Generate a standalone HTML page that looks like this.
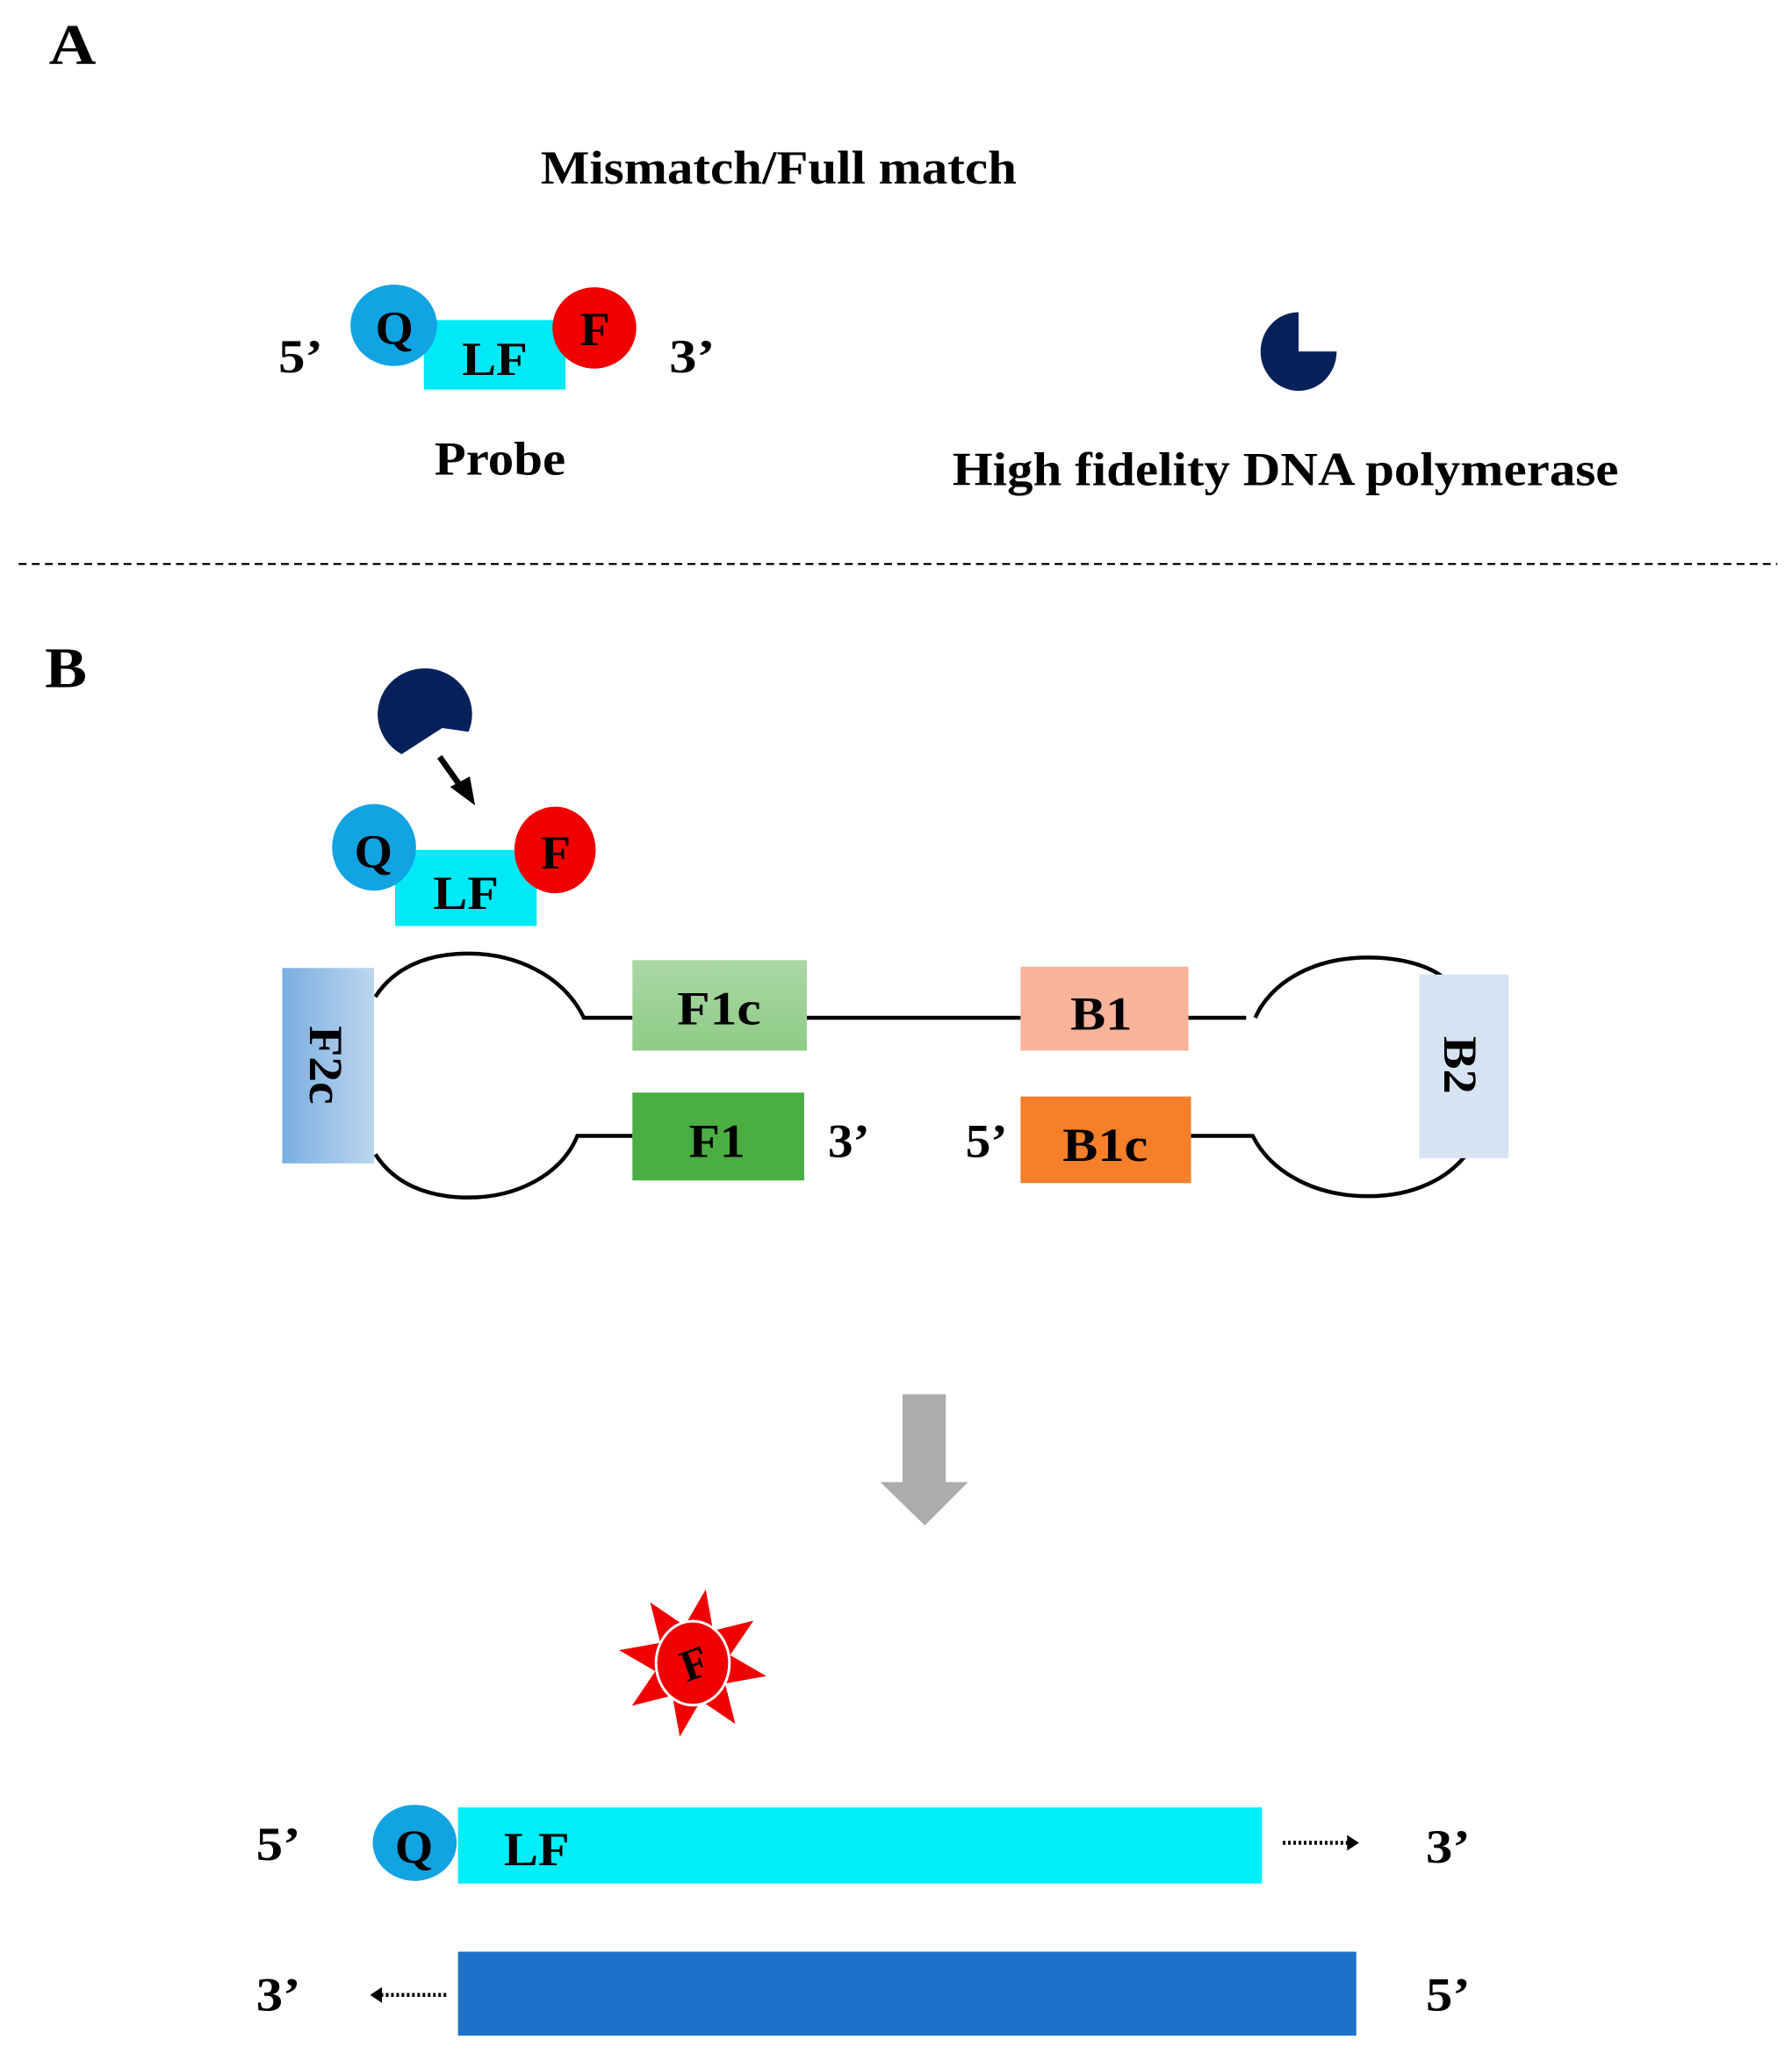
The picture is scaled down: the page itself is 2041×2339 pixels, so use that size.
<!DOCTYPE html>
<html><head><meta charset="utf-8"><style>
html,body{margin:0;padding:0;background:#fff;}
svg{display:block;}
text{font-family:"Liberation Serif",serif;font-weight:bold;fill:#000;}
</style></head><body>
<svg width="2041" height="2339" viewBox="0 0 1366 1566" xmlns="http://www.w3.org/2000/svg">
<defs>
<linearGradient id="f2c" x1="0" x2="1" y1="0" y2="0"><stop offset="0" stop-color="#7aaee0"/><stop offset="1" stop-color="#bcd6f0"/></linearGradient>
<linearGradient id="f1c" x1="0" x2="0" y1="0" y2="1"><stop offset="0" stop-color="#aad8a4"/><stop offset="1" stop-color="#8fcb87"/></linearGradient>
</defs>
<!-- A -->
<text x="37" y="49" font-size="44" textLength="36" lengthAdjust="spacingAndGlyphs">A</text>
<text x="412" y="140" font-size="36" textLength="363" lengthAdjust="spacingAndGlyphs">Mismatch/Full  match</text>
<text x="212" y="284" font-size="36" textLength="34" lengthAdjust="spacingAndGlyphs">5’</text>
<rect x="323" y="244" width="108" height="53" fill="#00e9f4"/>
<ellipse cx="300" cy="248" rx="33" ry="31" fill="#12a3e3"/>
<ellipse cx="453" cy="250" rx="32" ry="31" fill="#f20000"/>
<text x="286" y="262" font-size="36" textLength="29" lengthAdjust="spacingAndGlyphs">Q</text>
<text x="352" y="286" font-size="36" textLength="50" lengthAdjust="spacingAndGlyphs">LF</text>
<text x="442" y="263" font-size="36" textLength="23" lengthAdjust="spacingAndGlyphs">F</text>
<text x="510" y="284" font-size="36" textLength="35" lengthAdjust="spacingAndGlyphs">3’</text>
<text x="331" y="362" font-size="36" textLength="100" lengthAdjust="spacingAndGlyphs">Probe</text>
<path d="M990,268 L990,238 A29,30 0 1,0 1019,268 Z" fill="#06215a"/>
<text x="726" y="370" font-size="36" textLength="508" lengthAdjust="spacingAndGlyphs">High  fidelity  DNA polymerase</text>
<line x1="14" y1="430" x2="1355" y2="430" stroke="#000" stroke-width="1.5" stroke-dasharray="6,4"/>
<!-- B -->
<text x="34" y="524" font-size="44" textLength="32" lengthAdjust="spacingAndGlyphs">B</text>
<path d="M337,555 L357,558 A36,35 0 1,0 306,575 Z" fill="#06215a"/>
<line x1="335" y1="577" x2="352" y2="601" stroke="#000" stroke-width="4.5"/>
<path d="M343,600 L362,614 L358,592 Z" fill="#000"/>
<rect x="301" y="648" width="108" height="58" fill="#00e9f4"/>
<ellipse cx="285" cy="646" rx="32" ry="33" fill="#12a3e3"/>
<ellipse cx="423" cy="648" rx="31" ry="33" fill="#f20000"/>
<text x="270" y="661" font-size="36" textLength="29" lengthAdjust="spacingAndGlyphs">Q</text>
<text x="330" y="693" font-size="36" textLength="50" lengthAdjust="spacingAndGlyphs">LF</text>
<text x="412" y="662" font-size="36" textLength="23" lengthAdjust="spacingAndGlyphs">F</text>
<!-- loops -->
<g fill="none" stroke="#000" stroke-width="3">
<path d="M286,760 C300,738 325,727 357,727 C395,727 430,745 445,776 L482,776"/>
<path d="M286,880 C300,902 325,913 357,913 C395,913 428,895 440,866 L482,866"/>
<line x1="615" y1="776" x2="778" y2="776"/>
<path d="M906,776 L950,776"/>
<path d="M957,776 C968,750 1000,730 1043,730 C1070,730 1090,737 1100,745"/>
<path d="M908,866 L955,866 C968,892 1000,912 1043,912 C1080,912 1105,897 1118,880"/>
</g>
<rect x="215" y="738" width="70" height="149" fill="url(#f2c)"/>
<text transform="translate(236,782) rotate(90)" font-size="36" textLength="60" lengthAdjust="spacingAndGlyphs">F2c</text>
<rect x="482" y="732" width="133" height="69" fill="url(#f1c)"/>
<text x="516" y="781" font-size="36" textLength="64" lengthAdjust="spacingAndGlyphs">F1c</text>
<rect x="778" y="737" width="128" height="64" fill="#f9b39a"/>
<text x="816" y="785" font-size="36" textLength="47" lengthAdjust="spacingAndGlyphs">B1</text>
<rect x="1082" y="743" width="68" height="140" fill="#d6e3f3"/>
<text transform="translate(1101,790) rotate(90)" font-size="36" textLength="44" lengthAdjust="spacingAndGlyphs">B2</text>
<rect x="482" y="833" width="131" height="67" fill="#4bae43"/>
<text x="525" y="882" font-size="36" textLength="43" lengthAdjust="spacingAndGlyphs">F1</text>
<text x="631" y="882" font-size="36" textLength="32" lengthAdjust="spacingAndGlyphs">3’</text>
<text x="736" y="882" font-size="36" textLength="32" lengthAdjust="spacingAndGlyphs">5’</text>
<rect x="778" y="836" width="130" height="66" fill="#f67f29"/>
<text x="810" y="885" font-size="36" textLength="65" lengthAdjust="spacingAndGlyphs">B1c</text>
<!-- gray arrow -->
<path d="M688,1063 H721 V1130 H738 L705,1163 L671,1130 H688 Z" fill="#aeabab"/>
<!-- star -->
<g transform="translate(528,1268)">
<path fill="#f20000" d="M0,-57 L11,-27 L40,-40 L27,-11 L57,0 L27,11 L40,40 L11,27 L0,57 L-11,27 L-40,40 L-27,11 L-57,0 L-27,-11 L-40,-40 L-11,-27 Z" transform="rotate(10)"/>
<ellipse cx="0" cy="0" rx="28" ry="32" fill="#f20000" stroke="#fff" stroke-width="2"/>
<text x="-9" y="12" font-size="34" textLength="20" lengthAdjust="spacingAndGlyphs" transform="rotate(-20)">F</text>
</g>
<!-- strands -->
<text x="195" y="1418" font-size="36" textLength="34" lengthAdjust="spacingAndGlyphs">5’</text>
<rect x="349" y="1378" width="613" height="58" fill="#00eef8"/>
<ellipse cx="316" cy="1405" rx="32" ry="29" fill="#12a3e3"/>
<text x="301" y="1420" font-size="36" textLength="29" lengthAdjust="spacingAndGlyphs">Q</text>
<text x="384" y="1422" font-size="36" textLength="50" lengthAdjust="spacingAndGlyphs">LF</text>
<line x1="978" y1="1405" x2="1028" y2="1405" stroke="#000" stroke-width="3" stroke-dasharray="2,2"/>
<path d="M1027,1399 L1036,1405 L1027,1411 Z" fill="#000"/>
<text x="1087" y="1420" font-size="36" textLength="34" lengthAdjust="spacingAndGlyphs">3’</text>
<rect x="349" y="1488" width="685" height="64" fill="#1d72c8"/>
<text x="195" y="1533" font-size="36" textLength="34" lengthAdjust="spacingAndGlyphs">3’</text>
<line x1="340" y1="1521" x2="290" y2="1521" stroke="#000" stroke-width="3" stroke-dasharray="2,2"/>
<path d="M291,1515 L282,1521 L291,1527 Z" fill="#000"/>
<text x="1087" y="1533" font-size="36" textLength="34" lengthAdjust="spacingAndGlyphs">5’</text>
</svg>
</body></html>
